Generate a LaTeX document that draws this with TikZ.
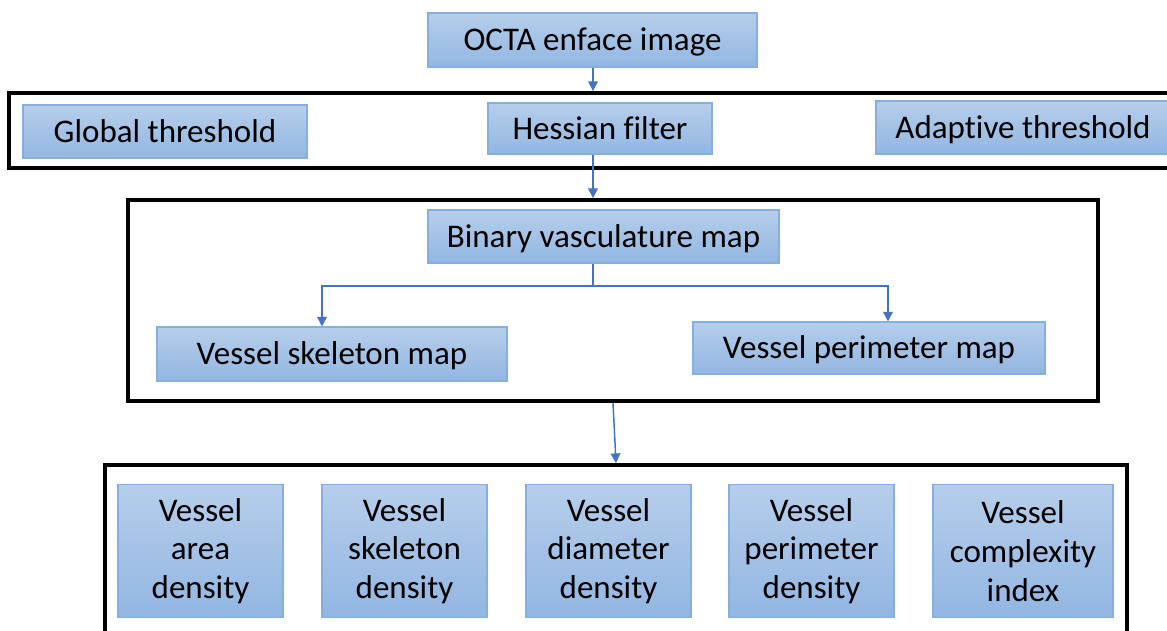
\documentclass[tikz,border=0pt]{standalone}
\usepackage{fontspec}
\setmainfont{Carlito}[Ligatures=NoCommon]
\usetikzlibrary{arrows.meta}
\definecolor{boxtop}{RGB}{182,206,235}
\definecolor{boxbot}{RGB}{146,182,226}
\definecolor{boxedge}{RGB}{133,175,224}
\definecolor{flowblue}{RGB}{68,114,196}
\tikzset{
  box/.style 2 args={draw=boxedge, line width=0.6pt, top color=boxtop, bottom color=boxbot,
    inner sep=0pt, font=\fontsize{18.8}{22}\selectfont,
    minimum width=#1*0.02cm, minimum height=#2*0.02cm},
  oneline/.style={text height=13.5pt, text depth=1.1pt},
  frame/.style 2 args={draw=black, line width=2.2pt, inner sep=0pt,
    minimum width=#1*0.02cm, minimum height=#2*0.02cm},
  flow/.style={draw=flowblue, line width=0.85pt, -{Triangle[width=5.5pt,length=5.5pt]}}
}
\begin{document}
\begin{tikzpicture}[x=0.02cm, y=-0.02cm]
\useasboundingbox (0,0) rectangle (1167,630);
% frames
\node[frame={1166}{75}] (frameA) at (592,130.5) {};
\node[frame={970}{201}] (frameB) at (613,300.5) {};
\node[frame={1022}{200}] (frameC) at (616,565) {};
% image and filters
\node[box={329}{54}, oneline] (octa) at (592.5,40) {OCTA enface image};
\node[box={284}{53}, oneline] (glob) at (165,131.5) {Global threshold};
\node[box={224}{51}, oneline] (hess) at (600,128.5) {Hessian filter};
\node[box={294}{53}, oneline] (adap) at (1023,127.5) {Adaptive threshold};
% maps
\node[box={351}{53}, oneline] (binary) at (603.5,236.5) {Binary vasculature map};
\node[box={350}{54}, oneline] (skel) at (332,354) {Vessel skeleton map};
\node[box={352}{52}, oneline] (perim) at (869,348) {Vessel perimeter map};
% measures
\node[box={165}{133}, align=center] (vad) at (200.5,551) {Vessel\\area\\density};
\node[box={165}{133}, align=center] (vsd) at (404.5,551) {Vessel\\skeleton\\density};
\node[box={165}{133}, align=center] (vdd) at (608.5,551) {Vessel\\diameter\\density};
\node[box={165}{133}, align=center] (vpd) at (811.5,551) {Vessel\\perimeter\\density};
\node[box={180}{133}, align=center] (vci) at (1023,551) {Vessel\\complexity\\index};
% connectors
\coordinate (split) at (593,286);
\coordinate (toskel) at (322,286);
\coordinate (toperim) at (888,286);
\draw[flow] (octa.south -| split) -- (split |- frameA.north);
\draw[flow] (hess.south -| split) -- (split |- frameB.north);
\draw[draw=flowblue, line width=0.85pt] (binary.south -| split) -- (split);
\draw[flow] (split) -- (toskel) -- (toskel |- skel.north);
\draw[flow] (split) -- (toperim) -- (toperim |- perim.north);
\draw[flow] (frameB.south) -- (frameC.north);
\end{tikzpicture}
\end{document}
